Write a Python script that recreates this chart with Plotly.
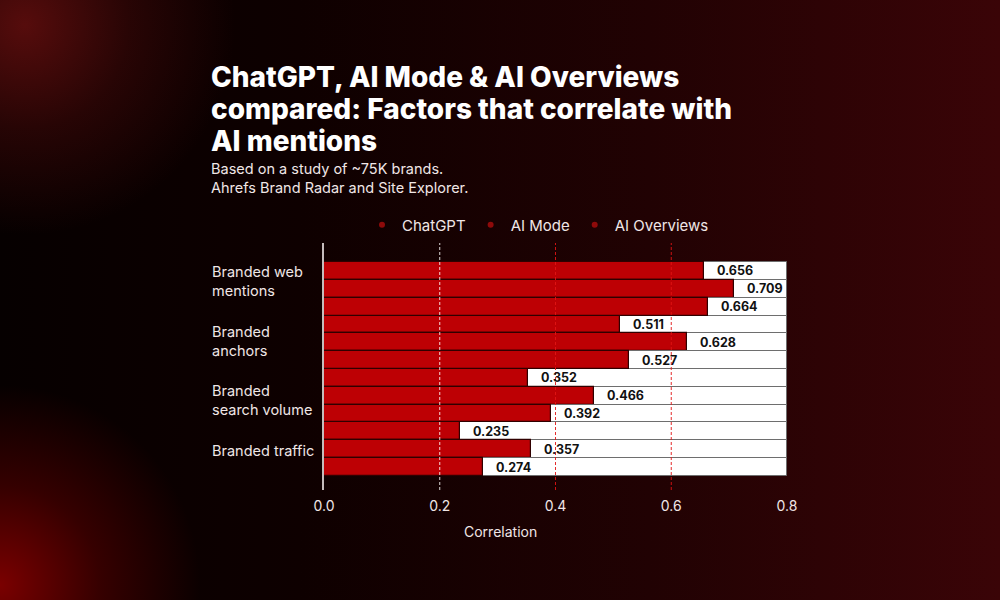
import base64
import plotly.graph_objects as go

# ---------------- data ----------------
factors = ["Branded web<br>mentions", "Branded<br>anchors", "Branded<br>search volume", "Branded traffic"]
series_names = ["ChatGPT", "AI Mode", "AI Overviews"]
chatgpt = [0.656, 0.511, 0.352, 0.235]
ai_mode = [0.709, 0.628, 0.466, 0.357]
ai_overviews = [0.664, 0.527, 0.392, 0.274]
tick_vals = [0.0, 0.2, 0.4, 0.6, 0.8]
tick_text = ["0.0", "0.2", "0.4", "0.6", "0.8"]
grid_vals = [0.2, 0.4, 0.6]
x_max = 0.8
x_title = "Correlation"
title_lines = ["ChatGPT, AI Mode &amp; AI Overviews", "compared: Factors that correlate with", "AI mentions"]
subtitle = "Based on a study of ~75K brands.<br>Ahrefs Brand Radar and Site Explorer."

series_values = [chatgpt, ai_mode, ai_overviews]
n_series = len(series_names)

FONT = "Inter, 'Noto Sans', sans-serif"
RED = "#bd0004"
TXT = "#f0e6e6"

svg = """<svg xmlns="http://www.w3.org/2000/svg" width="1000" height="600" viewBox="0 0 1000 600">
<defs>
<linearGradient id="lg" x1="0" y1="0" x2="1" y2="0">
<stop offset="0" stop-color="#060000"/>
<stop offset="0.3" stop-color="#0e0000"/>
<stop offset="0.65" stop-color="#210203"/>
<stop offset="1" stop-color="#3a0407"/>
</linearGradient>
<radialGradient id="r1" cx="25" cy="25" r="210" gradientUnits="userSpaceOnUse">
<stop offset="0" stop-color="#560c0c" stop-opacity="1"/>
<stop offset="0.5" stop-color="#560c0c" stop-opacity="0.4"/>
<stop offset="1" stop-color="#560c0c" stop-opacity="0"/>
</radialGradient>
<radialGradient id="r2" cx="0" cy="585" r="200" gradientUnits="userSpaceOnUse">
<stop offset="0" stop-color="#7a0000" stop-opacity="1"/>
<stop offset="0.5" stop-color="#7a0000" stop-opacity="0.4"/>
<stop offset="1" stop-color="#7a0000" stop-opacity="0"/>
</radialGradient>
</defs>
<rect width="1000" height="600" fill="url(#lg)"/>
<rect width="1000" height="600" fill="url(#r1)"/>
<rect width="1000" height="600" fill="url(#r2)"/>
</svg>"""
bg_src = "data:image/svg+xml;base64," + base64.b64encode(svg.encode()).decode()

fig = go.Figure()

for s, (name, vals) in enumerate(zip(series_names, series_values)):
    rows = [g * n_series + s for g in range(len(factors))]
    # white remainder up to the axis maximum
    fig.add_trace(go.Bar(
        x=[x_max - v for v in vals], y=rows, base=vals, orientation="h", width=1,
        marker=dict(color="#ffffff", line=dict(color="#6e6e6e", width=1)),
        showlegend=False, hoverinfo="skip"))
    # red value bar
    fig.add_trace(go.Bar(
        x=vals, y=rows, orientation="h", width=1, name=name,
        marker=dict(color=RED, line=dict(color="#300000", width=1.2)),
        showlegend=False))
    # legend dot
    fig.add_trace(go.Scatter(
        x=[None], y=[None], mode="markers", name=name,
        marker=dict(color="#8e0a0a", size=6)))

annotations = []
for s, vals in enumerate(series_values):
    for g, v in enumerate(vals):
        annotations.append(dict(
            x=v, y=g * n_series + s, xref="x", yref="y", xanchor="left", yanchor="middle",
            xshift=11, text=f"<b>{v:.3f}</b>", showarrow=False,
            font=dict(family=FONT, size=12.5, color="#111111")))
label_yshift = [8, 1, -4, -1]
for g, f in enumerate(factors):
    annotations.append(dict(
        x=0.21, y=g * n_series + 1, xref="paper", yref="y", xanchor="left", yanchor="middle",
        yshift=label_yshift[g], align="left", text=f, showarrow=False,
        font=dict(family=FONT, size=14.5, color=TXT)))
for i, line in enumerate(title_lines):
    annotations.append(dict(
        x=0.209, y=1 - (77 + 32 * i) / 600, xref="paper", yref="paper", xanchor="left",
        yanchor="middle", align="left", text=line, showarrow=False,
        font=dict(family=FONT, size=28, color="#ffffff", weight=800)))
annotations.append(dict(
    x=0.209, y=1 - 158 / 600, xref="paper", yref="paper", xanchor="left", yanchor="top",
    align="left", text=subtitle, showarrow=False,
    font=dict(family=FONT, size=14.5, color=TXT)))
annotations.append(dict(
    x=0.5, y=1 - 531 / 600, xref="paper", yref="paper", xanchor="center", yanchor="middle",
    text=x_title, showarrow=False, font=dict(family=FONT, size=14, color=TXT)))

shapes = []
for i, gv in enumerate(grid_vals):
    shapes.append(dict(
        type="line", xref="x", yref="y domain", x0=gv, x1=gv, y0=0, y1=1, layer="above",
        line=dict(color="rgba(255,255,255,0.85)" if i == 0 else "rgba(225,20,20,0.9)",
                  width=1, dash="3px,2px")))

n_rows = len(factors) * n_series
fig.update_layout(
    width=1000, height=600,
    margin=dict(l=0, r=0, t=0, b=0, pad=0, autoexpand=False),
    paper_bgcolor="#0a0000", plot_bgcolor="rgba(0,0,0,0)",
    barmode="overlay", bargap=0,
    font=dict(family=FONT, color=TXT),
    images=[dict(source=bg_src, xref="paper", yref="paper", x=0, y=1, sizex=1, sizey=1,
                 xanchor="left", yanchor="top", sizing="stretch", layer="below")],
    xaxis=dict(domain=[0.324, 0.787], range=[0, x_max], tickvals=tick_vals, ticktext=tick_text,
               showgrid=False, zeroline=False, showline=False, ticks="", ticklabelstandoff=6,
               tickfont=dict(family=FONT, size=14, color=TXT), fixedrange=True),
    yaxis=dict(domain=[1 - 490 / 600, 1 - 243 / 600], range=[n_rows - 0.5 + 0.79, -1.57],
               showticklabels=False, showgrid=False, zeroline=False,
               showline=True, linecolor="#c4bcbc", linewidth=1.5, fixedrange=True),
    legend=dict(orientation="h", x=0.362, y=1 - 225 / 600, xanchor="left", yanchor="middle",
                font=dict(family=FONT, size=15, color=TXT), bgcolor="rgba(0,0,0,0)",
                itemclick=False, itemdoubleclick=False),
    annotations=annotations,
    shapes=shapes,
)

fig.write_html("out.html")
